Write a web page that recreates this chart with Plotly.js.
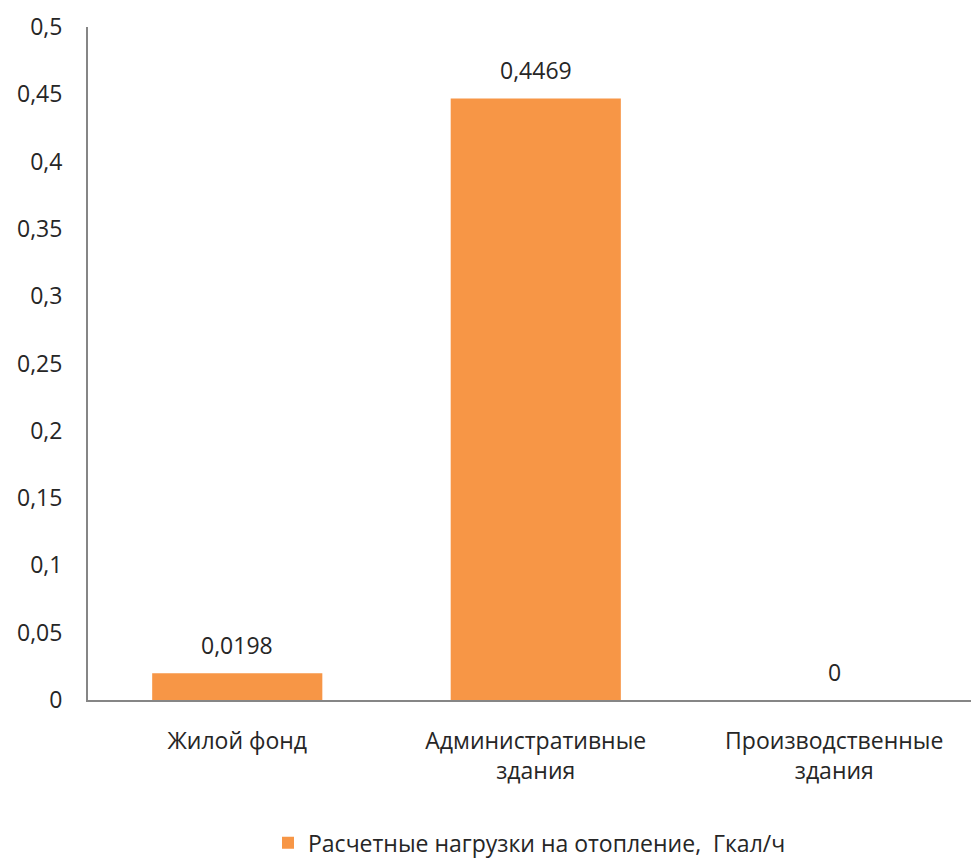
<!DOCTYPE html>
<html><head><meta charset="utf-8">
<script src="https://cdn.plot.ly/plotly-3.0.1.min.js"></script>
<style>html,body{margin:0;padding:0;background:#fff}#chart{width:971px;height:861px}</style>
</head><body><div id="chart"></div>
<script>
const categories = ["Жилой фонд", "Административные<br>здания", "Производственные<br>здания"];
const values = [0.0198, 0.4469, 0];
const valueLabels = ["0,0198", "0,4469", "0"];
const seriesName = "Расчетные нагрузки на отопление,  Гкал/ч";
const yTicks = [0, 0.05, 0.1, 0.15, 0.2, 0.25, 0.3, 0.35, 0.4, 0.45, 0.5];
const yTickLabels = ["0", "0,05", "0,1", "0,15", "0,2", "0,25", "0,3", "0,35", "0,4", "0,45", "0,5"];

const font = "'Open Sans', 'DejaVu Sans', sans-serif";
const txtColor = "#262626";
const trace = {
  type: "bar",
  x: categories,
  y: values,
  name: seriesName,
  marker: {color: "#F79646"},
  hoverinfo: "x+y"
};
const annotations = categories.map((c, i) => ({
  x: c, y: values[i], text: valueLabels[i], showarrow: false,
  yanchor: "bottom", yshift: 10, xref: "x", yref: "y",
  font: {family: font, size: 23, color: txtColor}
}));
const layout = {
  width: 971, height: 861,
  margin: {l: 88, r: 0, t: 27, b: 161},
  paper_bgcolor: "#fff", plot_bgcolor: "#fff",
  separators: ", ",
  font: {family: font, size: 23, color: txtColor},
  bargap: 0.43,
  showlegend: true,
  legend: {orientation: "h", x: 0.5, xanchor: "center", yref: "container", y: 0.021, yanchor: "middle",
           font: {family: font, size: 23, color: txtColor}},
  annotations: annotations,
  xaxis: {range: [-0.5, 2.458], showline: true, linecolor: "#868686", linewidth: 2,
          ticks: "", ticklabelstandoff: 19, showgrid: false, zeroline: false, automargin: false,
          tickfont: {family: font, size: 23, color: txtColor}},
  yaxis: {range: [0, 0.5], tickvals: yTicks, ticktext: yTickLabels,
          showline: true, linecolor: "#868686", linewidth: 2, ticks: "", automargin: false,
          ticklabelstandoff: 19, showgrid: false, zeroline: false,
          tickfont: {family: font, size: 23, color: txtColor}}
};
Plotly.newPlot("chart", [trace], layout, {displayModeBar: false});
</script></body></html>
